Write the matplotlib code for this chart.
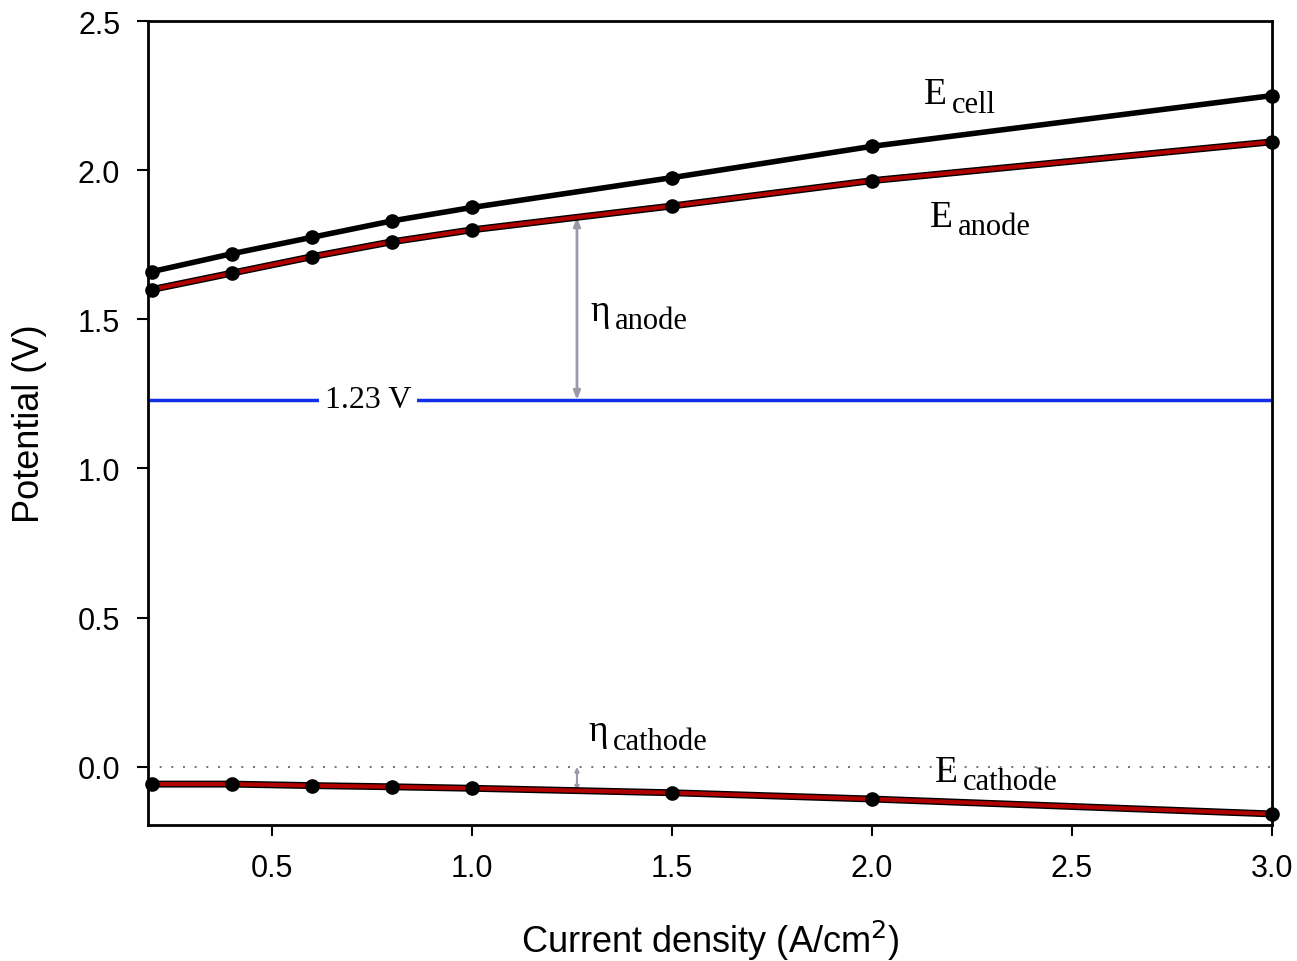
import matplotlib
matplotlib.use("Agg")
import matplotlib.pyplot as plt
import matplotlib.patheffects as pe

# Polarisation data
current = [0.2, 0.4, 0.6, 0.8, 1.0, 1.5, 2.0, 3.0]
e_cell = [1.66, 1.72, 1.775, 1.83, 1.875, 1.975, 2.08, 2.25]
e_anode = [1.60, 1.655, 1.71, 1.76, 1.80, 1.88, 1.965, 2.095]
e_cathode = [-0.058, -0.058, -0.063, -0.067, -0.072, -0.087, -0.108, -0.158]
e_rev = 1.23
x_ticks = [0.5, 1.0, 1.5, 2.0, 2.5, 3.0]
y_ticks = [0.0, 0.5, 1.0, 1.5, 2.0, 2.5]

sans = "Liberation Sans"
serif = "Liberation Serif"

fig = plt.figure(figsize=(12.97, 9.62), dpi=100)
ax = fig.add_axes([0.1141, 0.1414, 0.8666, 0.8357])

ax.set_xlim(0.19, 3.0)
ax.set_ylim(-0.195, 2.5)

red = "#b00000"
outline = [pe.Stroke(linewidth=5, foreground="black"), pe.Normal()]

# reference lines
ax.axhline(e_rev, color="#1030e8", lw=2.5, zorder=1)
ax.axhline(0.0, color="#707080", lw=1.4, linestyle=(0, (1, 5)), zorder=1)

# curves
ax.plot(current, e_cell, color="black", lw=4, zorder=4, clip_on=False)
ax.plot(current, e_anode, color=red, lw=3, path_effects=outline, zorder=3, clip_on=False)
ax.plot(current, e_cathode, color=red, lw=3, path_effects=outline, zorder=3, clip_on=False)

# data points
for series in (e_cell, e_anode, e_cathode):
    ax.plot(current, series, linestyle="none", marker="o", ms=9.5,
            mfc="black", mec="black", zorder=5, clip_on=False)

# overpotential arrows
xa = 1.2625
ya = e_anode[4] + (e_anode[5] - e_anode[4]) * (xa - current[4]) / (current[5] - current[4])
arrow_kw = dict(arrowstyle="<|-|>,head_length=0.5,head_width=0.2",
                color="#9a9aaa", lw=2, shrinkA=0, shrinkB=0)
ax.annotate("", xy=(xa, ya), xytext=(xa, e_rev), arrowprops=arrow_kw, zorder=2)
yc = e_cathode[4] + (e_cathode[5] - e_cathode[4]) * (xa - current[4]) / (current[5] - current[4])
ax.annotate("", xy=(xa, yc), xytext=(xa, 0.0),
            arrowprops=dict(arrowstyle="<|-|>,head_length=0.25,head_width=0.12",
                            color="#9a9aaa", lw=1.5, shrinkA=0, shrinkB=0), zorder=2)

# 1.23 V label on the blue line
ax.text(0.74, e_rev, "1.23 V", fontsize=23, family=serif, ha="center", va="center",
        bbox=dict(facecolor="white", edgecolor="none", pad=4), zorder=5)


def label(x, y, main, sub, size_main=27, size_sub=22, gap=0.012, drop=0.035):
    t = ax.text(x, y, main, fontsize=size_main, family=serif, ha="left", va="center", zorder=6)
    fig.canvas.draw()
    bb = t.get_window_extent()
    x_end = ax.transData.inverted().transform((bb.x1, bb.y0))[0]
    ax.text(x_end + gap, y - drop, sub, fontsize=size_sub, family=serif,
            ha="left", va="center", zorder=6)


label(2.13, 2.255, "E", "cell")
label(2.145, 1.845, "E", "anode")
label(1.295, 1.53, "η", "anode")
label(1.29, 0.12, "η", "cathode")
label(2.157, -0.015, "E", "cathode")

# axes styling
for s in ax.spines.values():
    s.set_linewidth(2)
ax.set_xticks(x_ticks)
ax.set_yticks(y_ticks)
ax.set_xticklabels([f"{v:.1f}" for v in x_ticks], fontsize=22, family=sans)
ax.set_yticklabels([f"{v:.1f}" for v in y_ticks], fontsize=22, family=sans)
ax.tick_params(direction="out", length=8, width=1.5, pad=12)
ax.set_xlabel("Current density (A/cm$^2$)", fontsize=26, family=sans, labelpad=25)
ax.set_ylabel("Potential (V)", fontsize=26, family=sans, labelpad=22)

fig.savefig("out.png", dpi=100, facecolor="white")
